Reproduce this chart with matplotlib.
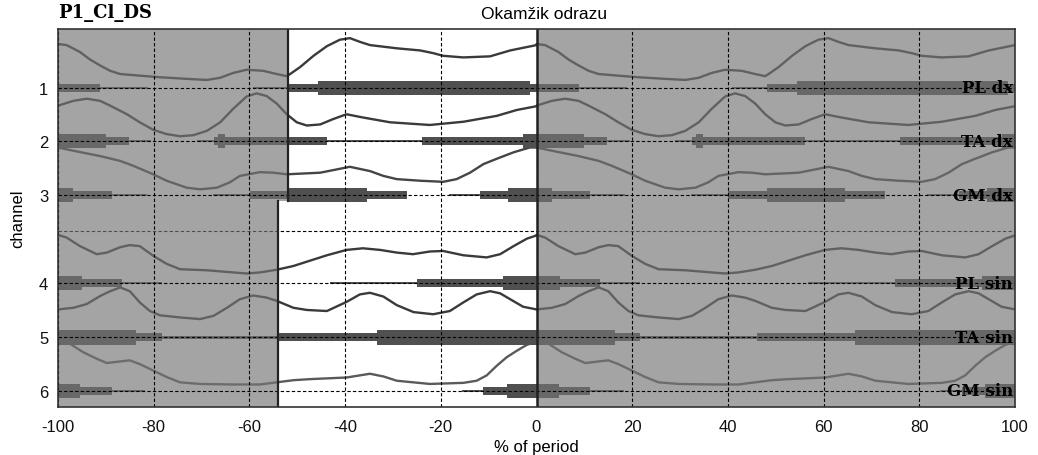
import numpy as np
import matplotlib
matplotlib.use("Agg")
import matplotlib.pyplot as plt
from matplotlib.patches import Rectangle

# ----- data: one gait period (-100..0 % of period), repeated for 0..100 -----
# envelope height above the channel baseline, in units of channel spacing
pl_dx_x = [-100, -98.2, -95.4, -93.3, -91.2, -89.1, -87.0, -82.9, -78.7, -73.1,
           -68.9, -66.1, -63.4, -60.6, -57.1, -54.3, -52.2, -51.5, -49.4, -46.6,
           -43.8, -41.1, -39.0, -36.9, -34.8, -29.2, -24.3, -21.6, -19.5, -15.3,
           -9.7, -5.5, 0]
pl_dx_env = [0.82, 0.80, 0.67, 0.53, 0.42, 0.32, 0.26, 0.23, 0.20, 0.17,
             0.15, 0.19, 0.28, 0.34, 0.32, 0.26, 0.22, 0.26, 0.39, 0.60,
             0.78, 0.90, 0.93, 0.86, 0.80, 0.74, 0.70, 0.65, 0.60, 0.57,
             0.59, 0.70, 0.80]

ta_dx_x = [-100, -96.8, -94.0, -91.2, -89.1, -85.6, -82.9, -80.1, -77.3, -74.5,
           -71.7, -68.9, -66.1, -63.4, -60.6, -58.5, -56.4, -54.3, -52.2, -50.1,
           -48.0, -45.2, -42.5, -39.7, -36.3, -30.6, -22.3, -15.3, -8.3, -4.1, 0]
ta_dx_env = [0.66, 0.75, 0.79, 0.75, 0.66, 0.50, 0.35, 0.21, 0.13, 0.09,
             0.11, 0.19, 0.35, 0.60, 0.83, 0.89, 0.84, 0.70, 0.50, 0.35,
             0.29, 0.31, 0.41, 0.50, 0.44, 0.35, 0.30, 0.36, 0.47, 0.58, 0.65]

gm_dx_x = [-100, -96.8, -91.2, -87.0, -84.3, -80.1, -77.3, -73.1, -70.3, -66.8,
           -64.1, -62.0, -57.8, -55.0, -52.2, -45.2, -39.0, -34.8, -32.0, -29.2,
           -24.3, -19.5, -16.7, -13.9, -11.1, -8.3, -4.8, -1.4, 0]
gm_dx_env = [0.89, 0.83, 0.73, 0.64, 0.55, 0.39, 0.27, 0.14, 0.11, 0.14,
             0.24, 0.36, 0.43, 0.42, 0.39, 0.42, 0.53, 0.45, 0.36, 0.30,
             0.27, 0.25, 0.30, 0.42, 0.58, 0.68, 0.80, 0.89, 0.89]

pl_sin_x = [-100, -98.2, -95.4, -91.9, -89.8, -87.0, -85.0, -82.9, -80.1, -77.3,
            -74.5, -68.9, -63.4, -60.6, -57.8, -54.3, -50.8, -47.3, -43.8, -39.7,
            -36.3, -32.7, -29.2, -25.8, -22.3, -19.5, -15.3, -10.4, -7.6, -4.8,
            -2.0, 0]
pl_sin_env = [0.90, 0.85, 0.69, 0.54, 0.57, 0.67, 0.71, 0.69, 0.51, 0.36,
              0.26, 0.24, 0.20, 0.18, 0.20, 0.25, 0.32, 0.42, 0.52, 0.62,
              0.65, 0.62, 0.57, 0.54, 0.59, 0.60, 0.52, 0.48, 0.54, 0.69,
              0.83, 0.89]

ta_sin_x = [-100, -96.8, -94.0, -91.2, -89.1, -87.0, -85.0, -82.9, -80.8, -78.7,
            -74.5, -70.3, -67.5, -64.7, -62.0, -59.2, -56.4, -54.3, -50.8, -48.0,
            -43.8, -39.7, -36.9, -34.8, -32.0, -29.2, -25.7, -21.6, -18.1, -15.3,
            -12.5, -9.7, -7.6, -5.5, -2.8, 0]
ta_sin_env = [0.52, 0.55, 0.62, 0.77, 0.86, 0.93, 0.86, 0.65, 0.49, 0.41,
              0.37, 0.34, 0.40, 0.55, 0.71, 0.78, 0.74, 0.68, 0.55, 0.51,
              0.49, 0.66, 0.80, 0.83, 0.76, 0.60, 0.47, 0.43, 0.49, 0.65,
              0.80, 0.86, 0.82, 0.71, 0.57, 0.52]

gm_sin_x = [-100, -97.5, -94.7, -91.9, -89.8, -87.0, -85.0, -82.9, -80.1, -77.3,
            -74.5, -70.3, -63.4, -57.8, -54.3, -50.8, -47.3, -39.7, -34.8, -32.0,
            -29.2, -22.3, -15.3, -12.5, -10.4, -8.3, -6.2, -4.1, -2.0, 0]
gm_sin_env = [0.94, 0.88, 0.72, 0.60, 0.52, 0.55, 0.57, 0.50, 0.38, 0.26,
              0.16, 0.13, 0.12, 0.12, 0.16, 0.20, 0.22, 0.25, 0.32, 0.27,
              0.19, 0.13, 0.15, 0.19, 0.29, 0.47, 0.63, 0.75, 0.86, 0.92]

# activity bursts: (start, end, level) with level 1 = low, 2 = mid, 3 = high
pl_dx_bursts = [(-100, -91.2, 2), (-91.2, -81.1, 1), (-59.2, -51.9, 1),
                (-51.9, -45.6, 2), (-45.6, -1.4, 3), (-1.4, 0, 2)]
ta_dx_bursts = [(-100, -90.0, 3), (-90.0, -85.2, 2), (-85.2, -80.5, 1),
                (-71.0, -67.5, 1), (-67.5, -43.8, 2), (-66.6, -65.2, 3),
                (-43.8, -24.0, 1), (-24.0, -2.8, 2), (-2.8, 0, 3)]
gm_dx_bursts = [(-100, -96.8, 3), (-96.8, -88.8, 2), (-88.8, -81.5, 1),
                (-67.7, -59.9, 1), (-59.9, -51.9, 2), (-51.9, -35.5, 3),
                (-35.5, -27.1, 2), (-18.3, -11.8, 1), (-11.8, -5.9, 2),
                (-5.9, 0, 3)]
pl_sin_bursts = [(-100, -95.0, 3), (-95.0, -86.7, 2), (-86.7, -78.3, 1),
                 (-43.2, -25.0, 1), (-25.0, -6.9, 2), (-6.9, 0, 3)]
ta_sin_bursts = [(-100, -83.6, 3), (-83.6, -78.3, 2), (-78.3, -54.0, 1),
                 (-54.0, -33.4, 2), (-33.4, 0, 3)]
gm_sin_bursts = [(-100, -95.4, 3), (-95.4, -88.8, 2), (-88.8, -81.8, 1),
                 (-15.6, -11.1, 1), (-11.1, -6.2, 2), (-6.2, 0, 3)]

channel_names = ["PL dx", "TA dx", "GM dx", "PL sin", "TA sin", "GM sin"]
channel_ticks = ["1", "2", "3", "4", "5", "6"]
env_x = [pl_dx_x, ta_dx_x, gm_dx_x, pl_sin_x, ta_sin_x, gm_sin_x]
env_y = [pl_dx_env, ta_dx_env, gm_dx_env, pl_sin_env, ta_sin_env, gm_sin_env]
bursts = [pl_dx_bursts, ta_dx_bursts, gm_dx_bursts,
          pl_sin_bursts, ta_sin_bursts, gm_sin_bursts]

# events: stance boundary (right, left leg) and reflex moment
stance_dx = -52
stance_sin = -54
reflex_t = 0

# ----- layout -----
BASE = [1.0, 1.99, 3.0, 4.64, 5.65, 6.65]
SPLIT_Y = 3.108
EXTRA_GRID_Y = 3.668
Y_TOP, Y_BOT = -0.10, 6.95
BAR_H = {1: 0.045, 2: 0.155, 3: 0.27}
CURVE_COL = ["#3a3a3a", "#3a3a3a", "#454545", "#3a3a3a", "#3a3a3a", "#5a5a5a"]
BAR_COL = "#505050"

plt.rcParams["font.family"] = ["Liberation Sans", "DejaVu Sans"]
plt.rcParams["axes.unicode_minus"] = False

fig = plt.figure(figsize=(10.38, 4.56), dpi=100)
ax = fig.add_axes([58 / 1038, 1 - 408 / 456, 957 / 1038, 378 / 456])
ax.set_xlim(-100, 100)
ax.set_ylim(Y_BOT, Y_TOP)

for i in range(6):
    xs = np.array(env_x[i], dtype=float)
    ys = BASE[i] - np.array(env_y[i], dtype=float)
    for shift in (0, 100):
        ax.plot(xs + shift, ys, color=CURVE_COL[i], lw=1.7, zorder=1.2,
                solid_joinstyle="round", solid_capstyle="round")
        for (s, e, lev) in bursts[i]:
            h = BAR_H[lev]
            ax.broken_barh([(s + shift, e - s)], (BASE[i] - h / 2, h),
                           facecolors=BAR_COL, edgecolor="none", zorder=1.3)

ax.axhline(EXTRA_GRID_Y, color="black", lw=0.8, ls=(0, (3, 2)), zorder=1.4)

# grey shading outside the analysed window
shade = dict(facecolor="#767676", edgecolor="none", alpha=0.66, zorder=1.8)
ax.add_patch(Rectangle((-100, Y_TOP), stance_dx + 100, SPLIT_Y - Y_TOP, **shade))
ax.add_patch(Rectangle((-100, SPLIT_Y), stance_sin + 100, Y_BOT - SPLIT_Y, **shade))
ax.add_patch(Rectangle((reflex_t, Y_TOP), 100 - reflex_t, Y_BOT - Y_TOP, **shade))

ax.plot([stance_dx, stance_dx], [Y_TOP, SPLIT_Y], color="#222222", lw=1.6, zorder=2.6)
ax.plot([stance_sin, stance_sin], [SPLIT_Y, Y_BOT], color="#222222", lw=1.6, zorder=2.6)
ax.axvline(reflex_t, color="#222222", lw=1.8, zorder=2.6)

ax.set_xticks(np.arange(-100, 101, 20))
ax.set_yticks(BASE)
ax.set_yticklabels(channel_ticks)
ax.set_axisbelow(False)
ax.grid(True, color="black", lw=0.8, ls=(0, (3, 2)))
ax.tick_params(axis="both", length=0, labelsize=12, colors="#111111")
ax.tick_params(axis="x", pad=9)
ax.tick_params(axis="y", pad=7)
for sp in ax.spines.values():
    sp.set_color("#333333")
    sp.set_linewidth(1.2)
    sp.set_zorder(3)

for i, name in enumerate(channel_names):
    ax.text(99.6, BASE[i], name, ha="right", va="center", fontsize=12,
            fontweight="bold", family="DejaVu Serif", zorder=4)

ax.set_xlabel("% of period", fontsize=12)
ax.xaxis.set_label_coords(0.5, -0.085)
ax.set_ylabel("channel", fontsize=12, labelpad=10)
ax.text(1.5, 1.04, "Okamžik odrazu", transform=ax.get_xaxis_transform(),
        ha="center", va="center", fontsize=12.5)
ax.text(0.0, 1.02, "P1_Cl_DS", transform=ax.transAxes, ha="left", va="bottom",
        fontsize=13, fontweight="bold", family="DejaVu Serif")

fig.savefig("out.png", dpi=100)
